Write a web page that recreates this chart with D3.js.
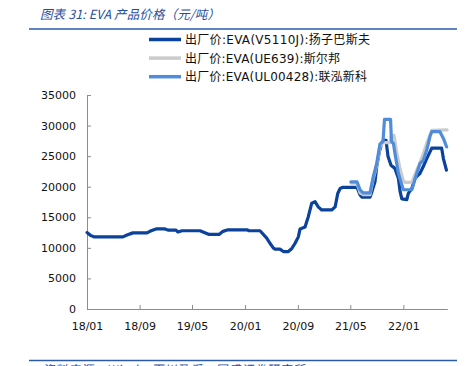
<!DOCTYPE html>
<html><head><meta charset="utf-8">
<script src="https://cdn.jsdelivr.net/npm/d3@7"></script>
<style>
html,body{margin:0;padding:0;background:#fff;}
svg{display:block;}
</style></head>
<body>
<svg id="chart" width="472" height="366"></svg>
<script>
const seriesNames = ["出厂价:EVA(V5110J):扬子巴斯夫","出厂价:EVA(UE639):斯尔邦","出厂价:EVA(UL00428):联泓新科"];
const seriesColors = ["#0B429C","#CBCBCB","#4F8CD9"];

const v5110jDates = ["2018-01-01","2018-01-19","2018-02-02","2018-06-16","2018-07-05","2018-08-01","2018-10-05","2018-10-24","2018-11-16","2018-12-27","2019-01-10","2019-02-16","2019-02-25","2019-03-16","2019-06-07","2019-07-05","2019-07-19","2019-09-03","2019-09-21","2019-10-14","2020-01-10","2020-01-19","2020-03-10","2020-04-10","2020-04-25","2020-05-11","2020-05-18","2020-06-10","2020-06-26","2020-07-19","2020-08-04","2020-08-19","2020-09-03","2020-09-11","2020-10-04","2020-10-19","2020-11-04","2020-11-19","2020-12-04","2020-12-20","2021-02-04","2021-02-20","2021-03-04","2021-03-15","2021-03-28","2021-06-01","2021-06-15","2021-06-24","2021-07-31","2021-08-09","2021-08-23","2021-08-31","2021-09-12","2021-09-23","2021-10-01","2021-10-13","2021-10-22","2021-11-05","2021-11-23","2021-12-09","2021-12-17","2021-12-25","2022-01-17","2022-01-24","2022-02-09","2022-02-24","2022-03-19","2022-04-03","2022-04-19","2022-05-04","2022-05-12","2022-06-27","2022-07-05","2022-07-19"];
const v5110jValues = [12500,12000,11800,11800,12100,12450,12450,12800,13100,13100,12900,12900,12600,12800,12800,12400,12200,12200,12700,12950,12950,12800,12800,11600,10750,9950,9800,9800,9400,9400,9900,10750,11800,13100,13400,15100,17300,17550,16700,16200,16200,16700,18900,19700,19900,19900,18650,18300,18300,19200,20800,23300,25700,27100,27600,27600,25000,23500,23000,21400,19200,18000,17900,18900,19700,21400,22200,23300,24600,25700,26300,26300,24600,22700];

const ue639Dates = ["2021-05-04","2021-06-01","2021-06-15","2021-06-29","2021-07-31","2021-08-15","2021-08-31","2021-09-15","2021-09-29","2021-11-03","2021-11-07","2021-11-19","2021-12-01","2021-12-17","2021-12-31","2022-01-09","2022-02-09","2022-02-24","2022-03-19","2022-04-03","2022-04-20","2022-05-12","2022-07-22"];
const ue639Values = [20600,20600,19000,18700,18700,21300,23500,26500,27200,27200,28400,28400,25700,22900,21100,20700,20700,22000,24000,25400,27200,29200,29300];

const ul00428Dates = ["2021-05-04","2021-06-01","2021-06-15","2021-06-29","2021-07-31","2021-08-15","2021-08-31","2021-09-15","2021-09-29","2021-10-06","2021-11-03","2021-11-07","2021-11-16","2021-11-24","2021-12-09","2021-12-25","2022-01-01","2022-02-09","2022-02-16","2022-03-04","2022-03-19","2022-04-03","2022-04-19","2022-05-04","2022-05-12","2022-06-19","2022-07-05","2022-07-20"];
const ul00428Values = [20800,20800,19500,19000,19000,21600,23800,27000,27400,31000,31000,27400,27100,25300,22200,20300,19500,19500,20300,22200,23800,24300,26000,28200,29000,29000,27900,26500];

const yTicks = [0,5000,10000,15000,20000,25000,30000,35000];
const xTickLabels = ["18/01","18/09","19/05","20/01","20/09","21/05","22/01"];

const parse = d3.timeParse("%Y-%m-%d");
const parseTick = d3.timeParse("%y/%m");
const series = [
  v5110jDates.map((d,i)=>({date:parse(d), value:v5110jValues[i]})),
  ue639Dates.map((d,i)=>({date:parse(d), value:ue639Values[i]})),
  ul00428Dates.map((d,i)=>({date:parse(d), value:ul00428Values[i]}))
];

const svg = d3.select("#chart");
const mLeft = 87, mRight = 447.3, mTop = 95, mBottom = 309;
const x = d3.scaleTime().domain([parse("2018-01-01"), parse("2022-07-23")]).range([mLeft, mRight]);
const y = d3.scaleLinear().domain([0,35000]).range([mBottom, mTop]);

function fitWidth(sel, target){
  const node = sel.node();
  const n = sel.text().length;
  const len = node.getComputedTextLength();
  if (n > 1) sel.attr("letter-spacing", ((target - len) / (n - 1)).toFixed(2));
}

const blue = "#1F4E9E";
// title
const title = svg.append("text").attr("x",40).attr("y",19)
  .attr("font-family","'Noto Sans CJK SC', 'DejaVu Sans', sans-serif")
  .attr("font-size",12.5).attr("font-style","italic").attr("fill",blue)
  .text("图表 31:  EVA 产品价格（元/吨）");
fitWidth(title, 180);
svg.append("line").attr("x1",29).attr("x2",457).attr("y1",29).attr("y2",29)
  .attr("stroke","#2A5AA8").attr("stroke-width",1.5);

// legend
const legendWidths = [185, 155, 182];
const lg = svg.append("g");
seriesNames.forEach((name,i)=>{
  const yy = 39.5 + i*18.6;
  lg.append("line").attr("x1",149).attr("x2",181).attr("y1",yy).attr("y2",yy)
    .attr("stroke",seriesColors[i]).attr("stroke-width",3.5);
  const t = lg.append("text").attr("x",185).attr("y",yy+4.5)
    .attr("font-family","'DejaVu Sans', 'Noto Sans CJK SC', sans-serif")
    .attr("font-size",12).attr("fill","#111")
    .text(name);
  fitWidth(t, legendWidths[i]);
});

// axes
const axisColor = "#8C8C8C";
const yAxis = d3.axisLeft(y).tickValues(yTicks).tickSizeInner(-4).tickSizeOuter(0).tickPadding(11).tickFormat(d3.format("d"));
const gy = svg.append("g").attr("transform",`translate(${mLeft},0)`).call(yAxis);
const xAxis = d3.axisBottom(x).tickValues(xTickLabels.map(parseTick)).tickSizeInner(-4).tickSizeOuter(0).tickPadding(13).tickFormat(d3.timeFormat("%y/%m"));
const gx = svg.append("g").attr("transform",`translate(0,${mBottom})`).call(xAxis);
[gx,gy].forEach(g=>{
  g.selectAll("path,line").attr("stroke",axisColor);
  g.selectAll("text").attr("font-family","'DejaVu Sans', sans-serif").attr("font-size",11).attr("fill","#111");
});

// lines
const line = d3.line().x(d=>x(d.date)).y(d=>y(d.value)).curve(d3.curveLinear);
series.forEach((s,i)=>{
  svg.append("path").datum(s).attr("d",line).attr("fill","none")
    .attr("stroke",seriesColors[i]).attr("stroke-width",3.2).attr("stroke-linejoin","round").attr("stroke-linecap","round");
});

// footer
svg.append("line").attr("x1",29).attr("x2",457).attr("y1",360.5).attr("y2",360.5)
  .attr("stroke","#2A5AA8").attr("stroke-width",1.5);
const foot = svg.append("text").attr("x",42).attr("y",374)
  .attr("font-family","'Noto Sans CJK SC', 'DejaVu Sans', sans-serif")
  .attr("font-size",12).attr("font-style","italic").attr("fill",blue)
  .text("资料来源：Wind，百川盈孚，国盛证券研究所");
fitWidth(foot, 262);
</script>
</body></html>
